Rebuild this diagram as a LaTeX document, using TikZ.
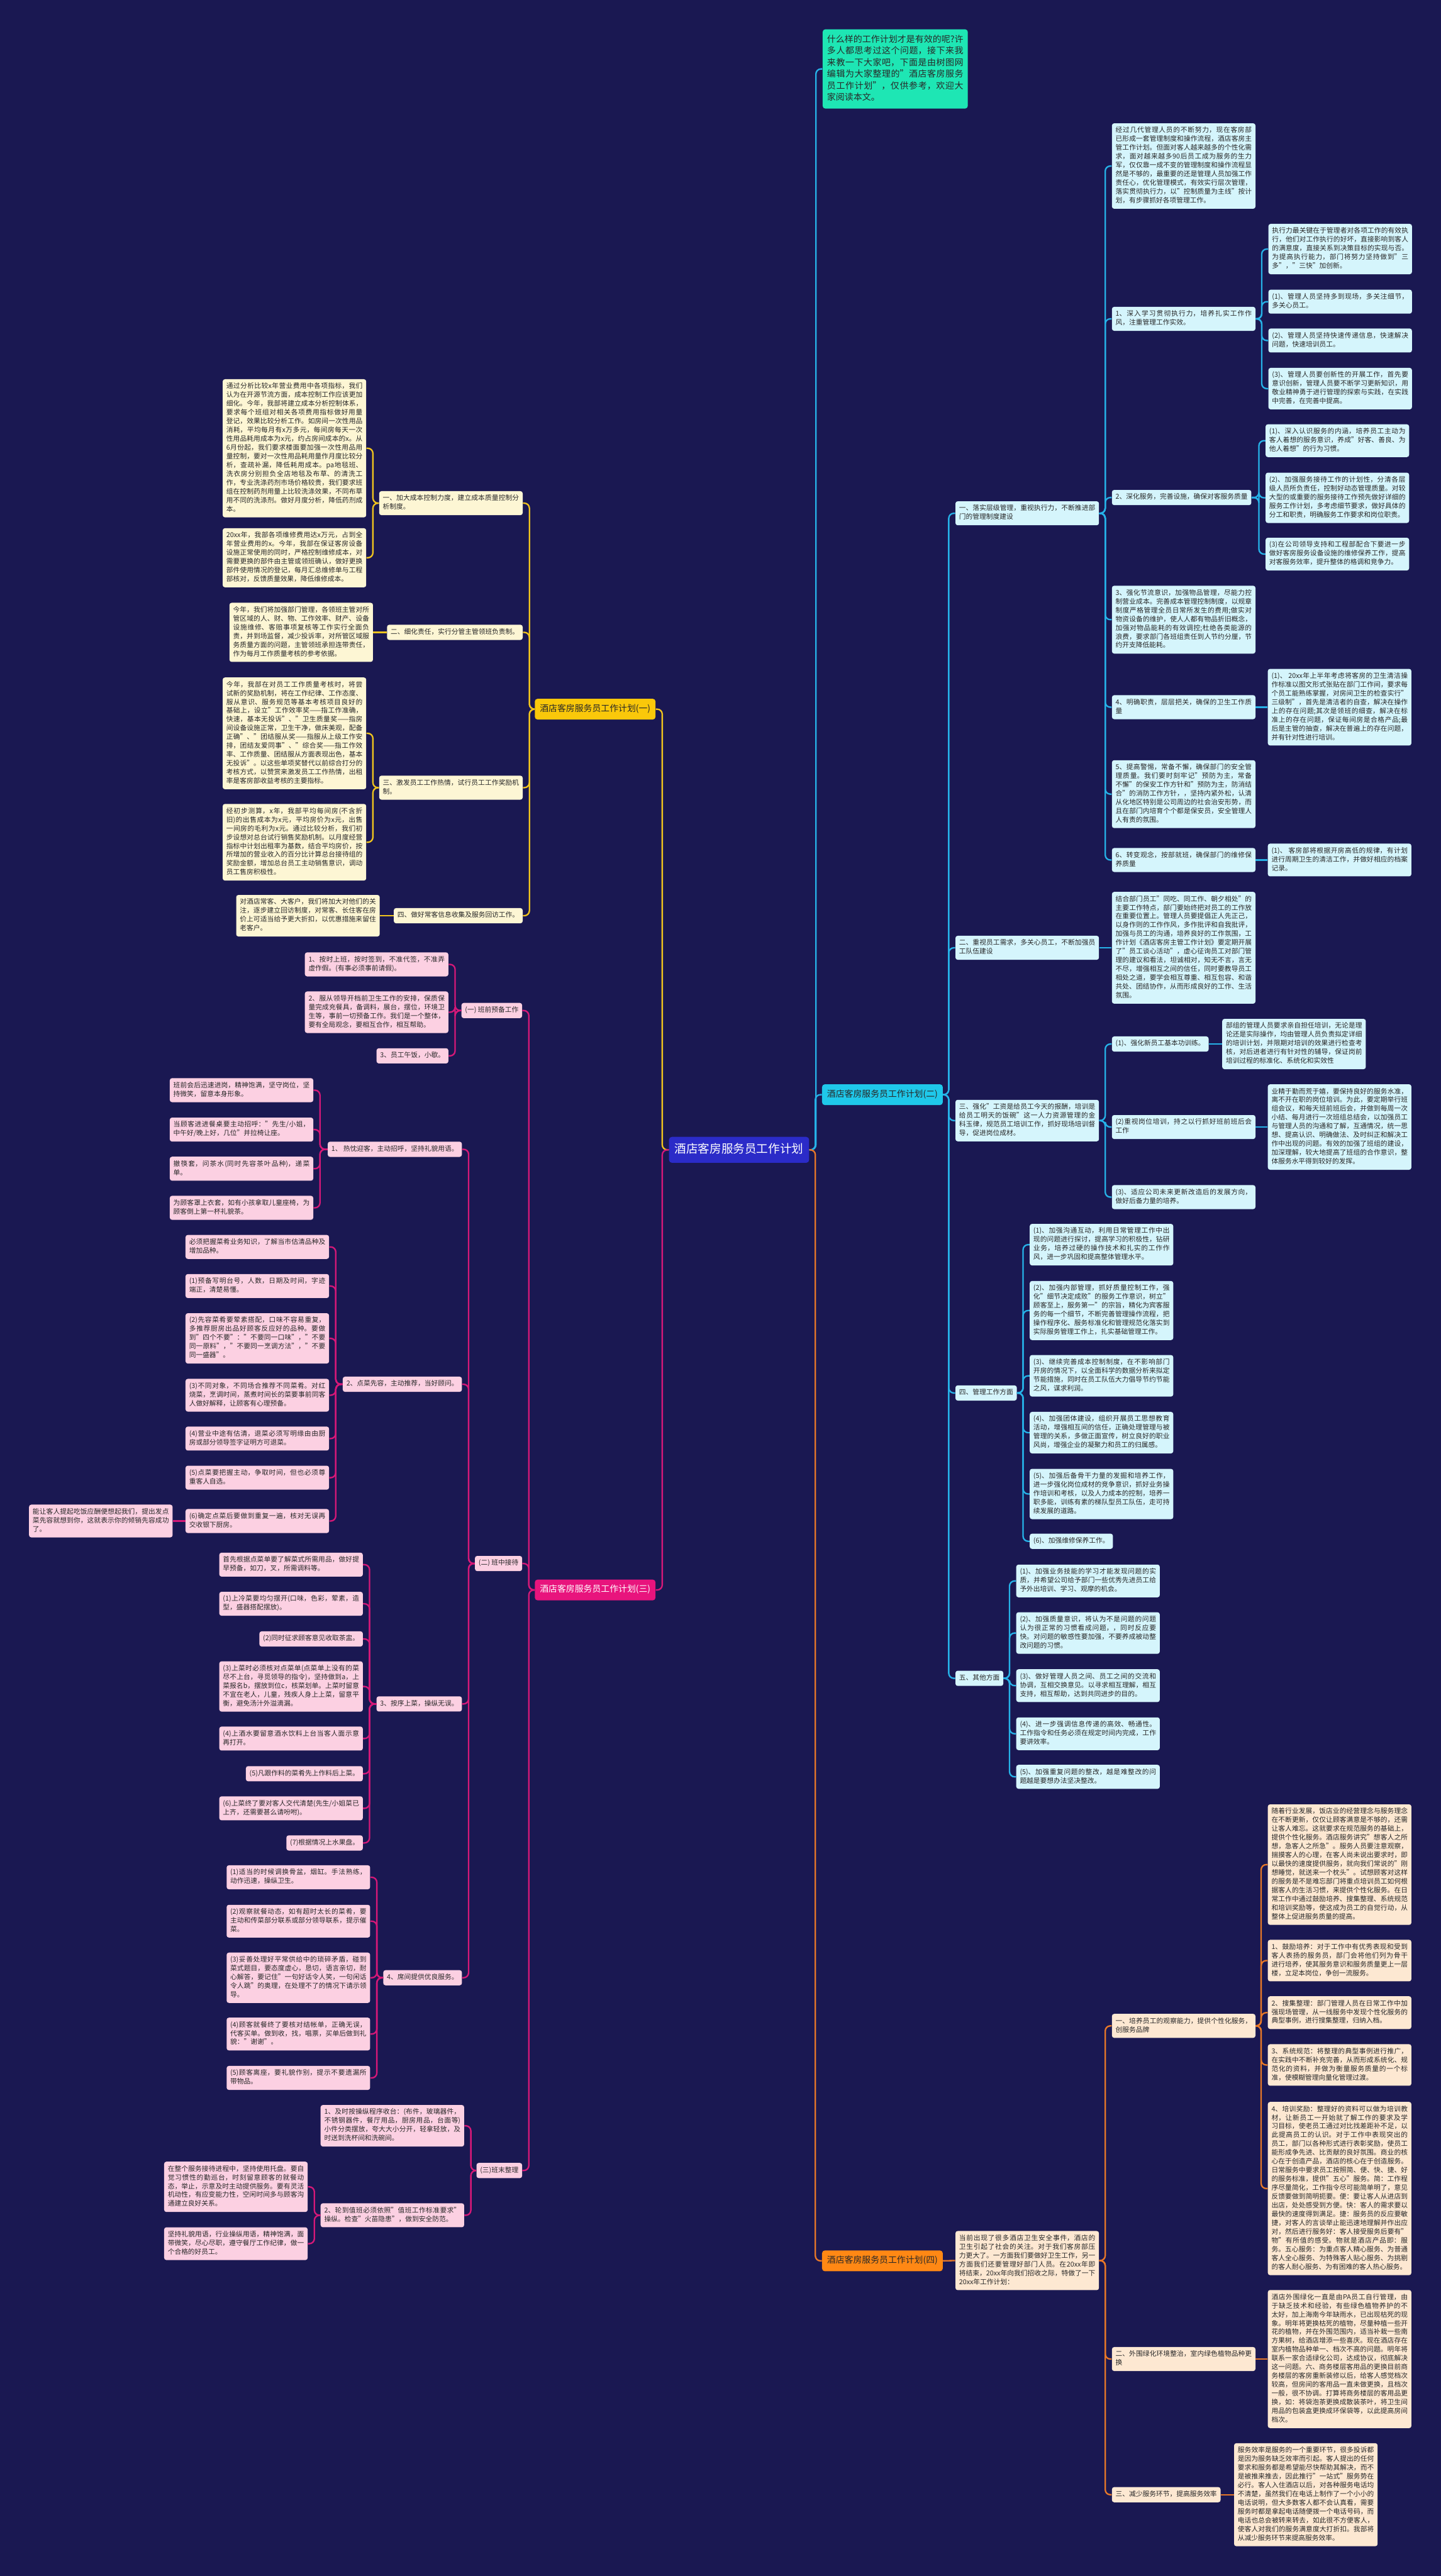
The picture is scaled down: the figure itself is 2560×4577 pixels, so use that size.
\documentclass[tikz,border=0pt]{standalone}
\usepackage{fontspec}
\setmainfont{Noto Sans CJK SC}
\XeTeXlinebreaklocale "zh"
\XeTeXlinebreakskip=0pt plus 0.5pt
\XeTeXinterchartokenstate=1
\XeTeXinterchartoks 1 3 = {\hskip0pt plus 0.5pt\relax}
\XeTeXinterchartoks 3 3 = {\hskip0pt plus 0.5pt\relax}
\XeTeXinterchartoks 0 3 = {\hskip0pt plus 0.5pt\relax}
\definecolor{bg}{RGB}{26,24,82}
\definecolor{txt}{RGB}{40,40,40}
\definecolor{rootfill}{RGB}{43,43,200}
\definecolor{cnode}{RGB}{31,200,234}
\definecolor{cline}{RGB}{38,178,232}
\definecolor{cbox}{RGB}{213,245,252}
\definecolor{intro}{RGB}{30,230,180}
\definecolor{ynode}{RGB}{250,200,10}
\definecolor{yline}{RGB}{240,196,30}
\definecolor{ybox}{RGB}{253,246,212}
\definecolor{pnode}{RGB}{232,20,125}
\definecolor{pline}{RGB}{214,24,120}
\definecolor{pbox}{RGB}{252,208,226}
\definecolor{onode}{RGB}{255,136,20}
\definecolor{oline}{RGB}{232,120,40}
\definecolor{obox}{RGB}{253,232,210}
\newcommand\dfont{\fontsize{6pt}{7.8pt}\selectfont}
\newcommand\bfont{\fontsize{7.75pt}{10.1pt}\selectfont}
\newcommand\rfont{\fontsize{10.4pt}{13.5pt}\selectfont}
\newcommand\ifont{\fontsize{7.8pt}{10.35pt}\selectfont}
\newcommand\rlink[3]{\draw[#1] (#3.west) -- ++(-11.5,0) |- (#2.east);}
\newcommand\llink[3]{\draw[#1] (#3.east) -- ++(11.5,0) |- (#2.west);}
\newcommand\srlink[3]{\draw[#1] (#2.east) -- (#3.west);}
\newcommand\sllink[3]{\draw[#1] (#2.west) -- (#3.east);}
\tikzset{
 bx/.style={rounded corners=2pt, inner xsep=3.25pt, inner ysep=2.85pt, font=\dfont, text=txt, execute at begin node=\strut, execute at end node=\strut},
 wb/.style={bx, text width=121pt, align=justify},
 nb/.style={bx, align=left},
 cb/.style={fill=cbox}, yb/.style={fill=ybox}, pb/.style={fill=pbox}, ob/.style={fill=obox},
 brn/.style={rounded corners=2.5pt, inner xsep=4.5pt, inner ysep=4.2pt, font=\bfont, execute at begin node=\strut, execute at end node=\strut},
 lk/.style={line width=1.3pt, rounded corners=4.5pt},
 lc/.style={lk, draw=cline}, lo/.style={lk, draw=oline}, ly/.style={lk, draw=yline}, lp/.style={lk, draw=pline}
}
\begin{document}
\begin{tikzpicture}[x=0.5pt,y=-0.5pt]
\fill[bg] (0,0) rectangle (2560,4577);
\useasboundingbox (0,0) rectangle (2560,4577);

% root and branches
\node[rounded corners=2.5pt, fill=rootfill, text=white, font=\rfont, inner xsep=5pt, inner ysep=4.75pt, execute at begin node=\strut, execute at end node=\strut] (root) at (1313,2043) {酒店客房服务员工作计划};
\node[anchor=west, rounded corners=2.5pt, fill=intro, text=txt, font=\ifont, text width=121pt, align=justify, inner xsep=4pt, inner ysep=4.2pt, execute at begin node=\strut, execute at end node=\strut] (intro) at (1461,122.5) {什么样的工作计划才是有效的呢?许多人都思考过这个问题，接下来我来教一下大家吧，下面是由树图网编辑为大家整理的"酒店客房服务员工作计划"，仅供参考，欢迎大家阅读本文。};
\node[brn, anchor=west, fill=cnode, text=txt] (B2) at (1460,1945) {酒店客房服务员工作计划(二)};
\node[brn, anchor=west, fill=onode, text=txt] (B4) at (1460,4017) {酒店客房服务员工作计划(四)};
\node[brn, anchor=east, fill=ynode, text=txt] (B1) at (1165,1260) {酒店客房服务员工作计划(一)};
\node[brn, anchor=east, fill=pnode, text=white] (B3) at (1165,2825) {酒店客房服务员工作计划(三)};

% ===== branch (二)
\node[wb,cb,anchor=west] (S21) at (1697,912) {一、落实层级管理，重视执行力，不断推进部门的管理制度建设};
\node[wb,cb,anchor=west] (D211) at (1975,295) {经过几代管理人员的不断努力，现在客房部已形成一套管理制度和操作流程，酒店客房主管工作计划。但面对客人越来越多的个性化需求，面对越来越多90后员工成为服务的生力军，仅仅靠一成不变的管理制度和操作流程显然是不够的，最重要的还是管理人员加强工作责任心，优化管理模式，有效实行层次管理，落实贯彻执行力，以"控制质量为主线"按计划，有步骤抓好各项管理工作。};
\node[wb,cb,anchor=west] (D212) at (1975,566.5) {1、深入学习贯彻执行力，培养扎实工作作风，注重管理工作实效。};
\node[wb,cb,anchor=west] (E1) at (2253,442.5) {执行力最关键在于管理者对各项工作的有效执行，他们对工作执行的好坏，直接影响到客人的满意度，直接关系到决策目标的实现与否。为提高执行能力，部门将努力坚持做到"三多"，"三快"加创新。};
\node[wb,cb,anchor=west] (E2) at (2253,536) {(1)、管理人员坚持多到现场，多关注细节，多关心员工。};
\node[wb,cb,anchor=west] (E3) at (2253,605) {(2)、管理人员坚持快速传递信息，快速解决问题，快速培训员工。};
\node[wb,cb,anchor=west] (E4) at (2253,690.5) {(3)、管理人员要创新性的开展工作，首先要意识创新，管理人员要不断学习更新知识，用敬业精神勇于进行管理的探索与实践，在实践中完善，在完善中提高。};
\node[nb,cb,anchor=west] (D213) at (1975,884) {2、深化服务，完善设施，确保对客服务质量};
\node[wb,cb,anchor=west] (F1) at (2248,783) {(1)、深入认识服务的内涵，培养员工主动为客人着想的服务意识，养成"好客、善良、为他人着想"的行为习惯。};
\node[wb,cb,anchor=west] (F2) at (2248,884.5) {(2)、加强服务接待工作的计划性，分清各层级人员所负责任，控制好动态管理质量。对较大型的或重要的服务接待工作预先做好详细的服务工作计划，多考虑细节要求，做好具体的分工和职责，明确服务工作要求和岗位职责。};
\node[wb,cb,anchor=west] (F3) at (2248,984.5) {(3)在公司领导支持和工程部配合下要进一步做好客房服务设备设施的维修保养工作，提高对客服务效率，提升整体的格调和竞争力。};
\node[wb,cb,anchor=west] (D214) at (1975,1101) {3、强化节流意识，加强物品管理，尽能力控制营业成本。完善成本管理控制制度，以规章制度严格管理全员日常所发生的费用;做实对物资设备的维护，使人人都有物品折旧概念，加强对物品能耗的有效调控;杜绝各类能源的浪费，要求部门各班组责任到人节约分厘，节约开支降低能耗。};
\node[wb,cb,anchor=west] (D215) at (1975,1256.5) {4、明确职责，层层把关，确保的卫生工作质量};
\node[wb,cb,anchor=west] (G1) at (2252,1256.5) {(1)、 20xx年上半年考虑将客房的卫生清洁操作标准以图文形式张贴在部门工作间，要求每个员工能熟练掌握，对房间卫生的检查实行"三级制"，首先是清洁者的自查，解决在操作上的存在问题;其次是领班的细查，解决在标准上的存在问题，保证每间房是合格产品;最后是主管的抽查，解决在普遍上的存在问题，并有针对性进行培训。};
\node[wb,cb,anchor=west] (D216) at (1975,1411) {5、提高警惕，常备不懈，确保部门的安全管理质量。我们要时刻牢记"预防为主，常备不懈"的保安工作方针和"预防为主，防消结合"的消防工作方针，，坚持内紧外松，认清从化地区特别是公司周边的社会治安形势，而且在部门内培育个个都是保安员，安全管理人人有责的氛围。};
\node[wb,cb,anchor=west] (D217) at (1975,1528) {6、转变观念，按部就班，确保部门的维修保养质量};
\node[wb,cb,anchor=west] (H1) at (2252,1528) {(1)、 客房部将根据开房高低的规律，有计划进行周期卫生的清洁工作，并做好相应的档案记录。};

\node[wb,cb,anchor=west] (S22) at (1697,1684) {二、重视员工需求，多关心员工，不断加强员工队伍建设};
\node[wb,cb,anchor=west] (D221) at (1975,1684) {结合部门员工"同吃、同工作、朝夕相处"的主要工作特点，部门要始终把对员工的工作放在重要位置上。管理人员要提倡正人先正己，以身作则的工作作风，多作批评和自我批评，加强与员工的沟通，培养良好的工作氛围，工作计划《酒店客房主管工作计划》要定期开展了"员工谈心活动"，虚心征询员工对部门管理的建议和看法，坦诚相对，知无不言，言无不尽，增强相互之间的信任，同时要教导员工相处之道，要学会相互尊重、相互包容、和谐共处、团结协作，从而形成良好的工作、生活氛围。};

\node[wb,cb,anchor=west] (S23) at (1697,1991) {三、强化"工资是给员工今天的报酬，培训是给员工明天的饭碗"这一人力资源管理的金科玉律，规范员工培训工作，抓好现场培训督导，促进岗位成材。};
\node[nb,cb,anchor=west] (D231) at (1975,1855) {(1)、强化新员工基本功训练。};
\node[wb,cb,anchor=west] (I1) at (2171,1855) {部组的管理人员要求亲自担任培训，无论是理论还是实际操作，均由管理人员负责拟定详细的培训计划，并限期对培训的效果进行检查考核，对后进者进行有针对性的辅导，保证岗前培训过程的标准化、系统化和实效性};
\node[wb,cb,anchor=west] (D232) at (1975,2002.5) {(2)重视岗位培训，持之以行抓好班前班后会工作};
\node[wb,cb,anchor=west] (I2) at (2252,2002.5) {业精于勤而荒于嬉，要保持良好的服务水准，离不开在职的岗位培训。为此，要定期举行班组会议，和每天班前班后会，并做到每周一次小结、每月进行一次班组总结会，以加强员工与管理人员的沟通和了解，互通情况，统一思想、提高认识、明确做法、及时纠正和解决工作中出现的问题。有效的加强了班组的建设，加深理解，较大地提高了班组的合作意识，整体服务水平得到较好的发挥。};
\node[wb,cb,anchor=west] (D233) at (1975,2127) {(3)、适应公司未来更新改造后的发展方向，做好后备力量的培养。};

\node[nb,cb,anchor=west] (S24) at (1697,2475) {四、管理工作方面};
\node[wb,cb,anchor=west] (J1) at (1829,2211.5) {(1)、加强沟通互动，利用日常管理工作中出现的问题进行探讨，提高学习的积极性，钻研业务，培养过硬的操作技术和扎实的工作作风，进一步巩固和提高整体管理水平。};
\node[wb,cb,anchor=west] (J2) at (1829,2328.5) {(2)、加强内部管理，抓好质量控制工作，强化"细节决定成败"的服务工作意识，树立"顾客至上，服务第一"的宗旨，精化为宾客服务的每一个细节，不断完善管理操作流程，把操作程序化、服务标准化和管理规范化落实到实际服务管理工作上，扎实基础管理工作。};
\node[wb,cb,anchor=west] (J3) at (1829,2444.5) {(3)、继续完善成本控制制度，在不影响部门开房的情况下，以全面科学的数据分析来拟定节能措施，同时在员工队伍大力倡导节约节能之风，谋求利润。};
\node[wb,cb,anchor=west] (J4) at (1829,2545.5) {(4)、加强团体建设，组织开展员工思想教育活动，增强相互间的信任，正确处理管理与被管理的关系，多做正面宣传，树立良好的职业风尚，增强企业的凝聚力和员工的归属感。};
\node[wb,cb,anchor=west] (J5) at (1829,2654.5) {(5)、加强后备骨干力量的发掘和培养工作，进一步强化岗位成材的竞争意识，抓好业务操作培训和考核，以及人力成本的控制，培养一职多能，训练有素的梯队型员工队伍，走可持续发展的道路。};
\node[nb,cb,anchor=west] (J6) at (1829,2738.5) {(6)、加强维修保养工作。};

\node[nb,cb,anchor=west] (S25) at (1697,2982) {五、其他方面};
\node[wb,cb,anchor=west] (K1) at (1805,2809) {(1)、加强业务技能的学习才能发现问题的实质，并希望公司给予部门一些优秀先进员工给予外出培训、学习、观摩的机会。};
\node[wb,cb,anchor=west] (K2) at (1805,2901.5) {(2)、加强质量意识，将认为不是问题的问题认为很正常的习惯看成问题，，同时反应要快。对问题的敏感性要加强，不要养成被动整改问题的习惯。};
\node[wb,cb,anchor=west] (K3) at (1805,2995) {(3)、做好管理人员之间、员工之间的交流和协调，互相交换意见。以寻求相互理解，相互支持，相互帮助，达到共同进步的目的。};
\node[wb,cb,anchor=west] (K4) at (1805,3080.5) {(4)、进一步强调信息传递的高效、畅通性。工作指令和任务必须在规定时间内完成，工作要讲效率。};
\node[wb,cb,anchor=west] (K5) at (1805,3157) {(5)、加强重复问题的整改，越是难整改的问题越是要想办法坚决整改。};

% ===== branch (四)
\node[wb,ob,anchor=west] (S41) at (1697,4016.5) {当前出现了很多酒店卫生安全事件，酒店的卫生引起了社会的关注。对于我们客房部压力更大了。一方面我们要做好卫生工作，另一方面我们还要管理好部门人员。在20xx年即将结束，20xx年向我们招收之际，特做了一下20xx年工作计划：};
\node[wb,ob,anchor=west] (S411) at (1975,3599.5) {一、培养员工的观察能力，提供个性化服务，创服务品牌};
\node[wb,ob,anchor=west] (L1) at (2252,3313) {随着行业发展，饭店业的经营理念与服务理念在不断更新，仅仅让顾客满意是不够的，还需让客人难忘。这就要求在规范服务的基础上，提供个性化服务。酒店服务讲究"想客人之所想，急客人之所急"。服务人员要注意观察，揣摸客人的心理，在客人尚未说出要求时，即以最快的速度提供服务，就向我们常说的"刚想睡觉，就送来一个枕头"。试想顾客对这样的服务是不是难忘部门将重点培训员工如何根据客人的生活习惯，来提供个性化服务。在日常工作中通过鼓励培养、搜集整理、系统规范和培训奖励等，使这成为员工的自觉行动，从整体上促进服务质量的提高。};
\node[wb,ob,anchor=west] (L2) at (2252,3483.5) {1、鼓励培养：对于工作中有优秀表现和受到客人表扬的服务员，部门会将他们列为骨干进行培养，使其服务意识和服务质量更上一层楼，立足本岗位，争创一流服务。};
\node[wb,ob,anchor=west] (L3) at (2252,3576) {2、搜集整理：部门管理人员在日常工作中加强现场管理，从一线服务中发现个性化服务的典型事例，进行搜集整理，归纳入档。};
\node[wb,ob,anchor=west] (L4) at (2252,3669) {3、系统规范：将整理的典型事例进行推广，在实践中不断补充完善，从而形成系统化、规范化的资料，并做为衡量服务质量的一个标准，使模糊管理向量化管理过渡。};
\node[wb,ob,anchor=west] (L5) at (2252,3888.5) {4、培训奖励：整理好的资料可以做为培训教材，让新员工一开始就了解工作的要求及学习目标，使老员工通过对比找差距补不足，以此提高员工的认识。对于工作中表现突出的员工，部门以各种形式进行表彰奖励，使员工能形成争先进、比贡献的良好氛围。商业的核心在于创造产品，酒店的核心在于创造服务。日常服务中要求员工按照简、便、快、捷、好的服务标准，提供"五心"服务。简：工作程序尽量简化，工作指令尽可能简单明了，意见反馈要做到简明扼要。便：要让客人从进店到出店，处处感受到方便。快：客人的需求要以最快的速度得到满足。捷：服务员的反应要敏捷，对客人的言谈举止能迅速地理解并作出应对，然后进行服务好：客人接受服务后要有"物"有所值的感受。物就是酒店产品即：服务。五心服务：为重点客人精心服务、为普通客人全心服务、为特殊客人贴心服务、为挑剔的客人耐心服务、为有困难的客人热心服务。};
\node[wb,ob,anchor=west] (S412) at (1975,4191.5) {二、外围绿化环境整治，室内绿色植物品种更换};
\node[wb,ob,anchor=west] (M1) at (2252,4191.5) {酒店外围绿化一直是由PA员工自行管理，由于缺乏技术和经验，有些绿色植物养护的不太好，加上海南今年缺雨水，已出现枯死的现象。明年将更换枯死的植物，尽量种植一些开花的植物，并在外围范围内，适当补栽一些南方果树，给酒店增添一些喜庆。现在酒店存在室内植物品种单一、档次不高的问题。明年将联系一家合适绿化公司，达成协议，彻底解决这一问题。六、商务楼层客用品的更换目前商务楼层的客房重新装修以后，给客人感觉档次较高，但房间的客用品一直未做更换，且档次一般，很不协调。打算将商务楼层的客用品更换，如：将袋泡茶更换成散装茶叶，将卫生间用品的包装盒更换成环保袋等，以此提高房间档次。};
\node[nb,ob,anchor=west] (S413) at (1975,4432.5) {三、减少服务环节，提高服务效率};
\node[wb,ob,anchor=west] (N1) at (2192,4432.5) {服务效率是服务的一个重要环节，很多投诉都是因为服务缺乏效率而引起。客人提出的任何要求和服务都是希望能尽快帮助其解决，而不是被推来推去，因此推行"一站式"服务势在必行。客人入住酒店以后，对各种服务电话均不清楚，虽然我们在电话上制作了一个小小的电话说明，但大多数客人都不会认真看，需要服务时都是拿起电话随便拨一个电话号码，而电话也总会被转来转去，如此很不方便客人，使客人对我们的服务满意度大打折扣。我部将从减少服务环节来提高服务效率。};

% ===== branch (一)
\node[wb,yb,anchor=east] (P1) at (929,894) {一、加大成本控制力度，建立成本质量控制分析制度。};
\node[wb,yb,anchor=east] (P11) at (651,796.5) {通过分析比较x年营业费用中各项指标，我们认为在开源节流方面，成本控制工作应该更加细化。今年，我部将建立成本分析控制体系，要求每个班组对相关各项费用指标做好用量登记，效果比较分析工作。如房间一次性用品消耗，平均每月有x万多元，每间房每天一次性用品耗用成本为x元，约占房间成本的x。从6月份起，我们要求楼面要加强一次性用品用量控制，要对一次性用品耗用量作月度比较分析，查疏补漏，降低耗用成本。pa地毯班、洗衣房分别担负全店地毯及布草、的清洗工作，专业洗涤药剂市场价格较贵，我们要求班组在控制药剂用量上比较洗涤效果，不同布草用不同的洗涤剂。做好月度分析，降低药剂成本。};
\node[wb,yb,anchor=east] (P12) at (651,991) {20xx年，我部各项维修费用达x万元，占到全年营业费用的x。今年，我部在保证客房设备设施正常使用的同时，严格控制维修成本，对需要更换的部件由主管或领班确认，做好更换部件使用情况的登记，每月汇总维修单与工程部核对，反馈质量效果，降低维修成本。};
\node[nb,yb,anchor=east] (P2) at (929,1123.5) {二、细化责任，实行分管主管领班负责制。};
\node[wb,yb,anchor=east] (P21) at (663,1123.5) {今年，我们将加强部门管理，各领班主管对所管区域的人、财、物、工作效率、财产、设备设施维修、客赔事项复核等工作实行全面负责，并到场监督，减少投诉率，对所管区域服务质量方面的问题，主管领班承担连带责任，作为每月工作质量考核的参考依据。};
\node[wb,yb,anchor=east] (P3) at (929,1399.5) {三、激发员工工作热情，试行员工工作奖励机制。};
\node[wb,yb,anchor=east] (P31) at (651,1303) {今年，我部在对员工工作质量考核时，将尝试新的奖励机制，将在工作纪律、工作态度、服从意识、服务规范等基本考核项目良好的基础上，设立"工作效率奖——指工作准确，快速，基本无投诉"、"卫生质量奖——指房间设备设施正常，卫生干净，做床美观，配备正确"、"团结服从奖——指服从上级工作安排，团结友爱同事"、"综合奖——指工作效率、工作质量、团结服从方面表现出色，基本无投诉"。以这些单项奖替代以前综合打分的考核方式，以赞赏来激发员工工作热情，出租率是客房部收益考核的主要指标。};
\node[wb,yb,anchor=east] (P32) at (651,1496.5) {经初步测算，x年，我部平均每间房(不含折旧)的出售成本为x元，平均房价为x元，出售一间房的毛利为x元。通过比较分析，我们初步设想对总台试行销售奖励机制。以月度经营指标中计划出租率为基数，结合平均房价，按所增加的营业收入的百分比计算总台接待组的奖励金额，增加总台员工主动销售意识，调动员工售房积极性。};
\node[nb,yb,anchor=east] (P4) at (929,1627) {四、做好常客信息收集及服务回访工作。};
\node[wb,yb,anchor=east] (P41) at (675,1627) {对酒店常客、大客户，我们将加大对他们的关注，逐步建立回访制度，对常客、长住客在房价上可适当给予更大折扣，以优惠措施来留住老客户。};

% ===== branch (三)
\node[nb,pb,anchor=east] (Q1) at (928,1795.5) {(一) 班前预备工作};
\node[wb,pb,anchor=east] (Q11) at (797,1713.5) {1、按时上班，按时签到，不准代签，不准弄虚作假。(有事必须事前请假)。};
\node[wb,pb,anchor=east] (Q12) at (797,1798.5) {2、服从领导开档前卫生工作的安排，保质保量完成充餐具，备调料，展台，摆位，环境卫生等，事前一切预备工作。我们是一个整体，要有全局观念，要相互合作，相互帮助。};
\node[nb,pb,anchor=east] (Q13) at (797,1876) {3、员工午饭，小歇。};

\node[nb,pb,anchor=east] (Q2) at (928,2778) {(二) 班中接待};
\node[nb,pb,anchor=east] (Q21) at (821,2042) {1、 热忱迎客，主动招呼，坚持礼貌用语。};
\node[wb,pb,anchor=east] (Q211) at (557,1937) {班前会后迅速进岗，精神饱满，坚守岗位，坚持微笑，留意本身形象。};
\node[wb,pb,anchor=east] (Q212) at (557,2007) {当顾客进进餐桌要主动招呼："先生/小姐，中午好/晚上好，几位"并拉椅让座。};
\node[wb,pb,anchor=east] (Q213) at (557,2076.5) {撤筷套，问茶水(同时先容茶叶品种)，递菜单。};
\node[wb,pb,anchor=east] (Q214) at (557,2146) {为顾客罩上衣套，如有小孩拿取儿童座椅，为顾客倒上第一杯礼貌茶。};

\node[nb,pb,anchor=east] (Q22) at (821,2459.5) {2、点菜先容，主动推荐，当好顾问。};
\node[wb,pb,anchor=east] (Q221) at (585,2215.5) {必须把握菜肴业务知识，了解当市估清品种及增加品种。};
\node[wb,pb,anchor=east] (Q222) at (585,2285) {(1)预备写明台号，人数，日期及时间，字迹端正，清楚易懂。};
\node[wb,pb,anchor=east] (Q223) at (585,2378) {(2)先容菜肴要荤素搭配，口味不容易重复，多推荐厨房出品好顾客反应好的品种。要做到"四个不要"："不要同一口味"，"不要同一原料"，"不要同一烹调方法"，"不要同一盛器"。};
\node[wb,pb,anchor=east] (Q224) at (585,2479) {(3)不同对象，不同场合推荐不同菜肴。对红烧菜，烹调时间，蒸煮时间长的菜要事前同客人做好解释，让顾客有心理预备。};
\node[wb,pb,anchor=east] (Q225) at (585,2556) {(4)营业中途有估清，退菜必须写明缘由由厨房或部分领导签字证明方可退菜。};
\node[wb,pb,anchor=east] (Q226) at (585,2625.5) {(5)点菜要把握主动，争取时间，但也必须尊重客人自选。};
\node[wb,pb,anchor=east] (Q227) at (585,2702.5) {(6)确定点菜后要做到重复一遍，核对无误再交收银下厨房。};
\node[wb,pb,anchor=east] (Q2271) at (307,2702.5) {能让客人提起吃饭应酬便想起我们，提出发点菜先容就想到你，这就表示你的倾销先容成功了。};

\node[nb,pb,anchor=east] (Q23) at (821,3027.5) {3、按序上菜，操纵无误。};
\node[wb,pb,anchor=east] (Q231) at (645,2780) {首先根据点菜单要了解菜式所需用品，做好提早预备，如刀，叉，所需调料等。};
\node[wb,pb,anchor=east] (Q232) at (645,2849.5) {(1)上冷菜要均匀摆开(口味，色彩，荤素，造型，盛器搭配摆放)。};
\node[nb,pb,anchor=east] (Q233) at (645,2912) {(2)同时征求顾客意见收取茶盅。};
\node[wb,pb,anchor=east] (Q234) at (645,2996.5) {(3)上菜时必须核对点菜单(点菜单上没有的菜尽不上台，寻觅领导的指令)，坚持做到a，上菜报名b，摆放到位c，核菜划单。上菜时留意不宜在老人，儿童，残疾人身上上菜，留意平衡，避免汤汁外溢滴漏。};
\node[wb,pb,anchor=east] (Q235) at (645,3089) {(4)上酒水要留意酒水饮料上台当客人面示意再打开。};
\node[nb,pb,anchor=east] (Q236) at (645,3151.5) {(5)凡跟作料的菜肴先上作料后上菜。};
\node[wb,pb,anchor=east] (Q237) at (645,3213) {(6)上菜终了要对客人交代清楚(先生/小姐菜已上齐，还需要甚么请吩咐)。};
\node[nb,pb,anchor=east] (Q238) at (645,3274.5) {(7)根据情况上水果盘。};

\node[nb,pb,anchor=east] (Q24) at (821,3514) {4、席间提供优良服务。};
\node[wb,pb,anchor=east] (Q241) at (658,3335.5) {(1)适当的时候调换骨盆，烟缸。手法熟练，动作迅速，操纵卫生。};
\node[wb,pb,anchor=east] (Q242) at (658,3413.5) {(2)观察就餐动态，如有超时太长的菜肴，要主动和传菜部分联系或部分领导联系，提示催菜。};
\node[wb,pb,anchor=east] (Q243) at (658,3514) {(3)妥善处理好平常供给中的琐碎矛盾，碰到菜式题目，要态度虚心，恳切，语言亲切，耐心解答，要记住"一句好话令人笑，一句闲话令人跳"的奥理，在处理不了的情况下请示领导。};
\node[wb,pb,anchor=east] (Q244) at (658,3614) {(4)顾客就餐终了要核对结帐单，正确无误，代客买单。做到收，找，唱票，买单后做到礼貌："谢谢"。};
\node[wb,pb,anchor=east] (Q245) at (658,3692) {(5)顾客离座，要礼貌作别，提示不要遗漏所带物品。};

\node[nb,pb,anchor=east] (Q3) at (928,3856.5) {(三)班末整理};
\node[wb,pb,anchor=east] (Q31) at (825,3777) {1、及时按操纵程序收台：(布件，玻璃器件，不锈钢器件，餐厅用品，厨房用品，台面等)小件分类摆放，夸大大小分开，轻拿轻放，及时送到洗杯间和洗碗间。};
\node[wb,pb,anchor=east] (Q32) at (825,3936) {2、轮到值班必须依照"值班工作标准要求"操纵。检查"火苗隐患"，做到安全防范。};
\node[wb,pb,anchor=east] (Q321) at (547,3885.5) {在整个服务接待进程中，坚持使用托盘。要自觉习惯性的勤巡台，时刻留意顾客的就餐动态，举止，示意及时主动提供服务。要有灵活机动性，有应变能力性，空闲时间多与顾客沟通建立良好关系。};
\node[wb,pb,anchor=east] (Q322) at (547,3986.5) {坚持礼貌用语，行业操纵用语，精神饱满，面带微笑，尽心尽职，遵守餐厅工作纪律，做一个合格的好员工。};

% ===== connectors
\rlink{lc}{root}{intro}
\rlink{lc}{root}{B2}
\rlink{lo}{root}{B4}
\llink{ly}{root}{B1}
\llink{lp}{root}{B3}

\foreach \c in {S21,S22,S23,S24,S25} {\rlink{lc}{B2}{\c}}
\foreach \c in {D211,D212,D213,D214,D215,D216,D217} {\rlink{lc}{S21}{\c}}
\foreach \c in {E1,E2,E3,E4} {\rlink{lc}{D212}{\c}}
\foreach \c in {F1,F2,F3} {\rlink{lc}{D213}{\c}}
\srlink{lc}{D215}{G1}
\srlink{lc}{D217}{H1}
\srlink{lc}{S22}{D221}
\foreach \c in {D231,D232,D233} {\rlink{lc}{S23}{\c}}
\srlink{lc}{D231}{I1}
\srlink{lc}{D232}{I2}
\foreach \c in {J1,J2,J3,J4,J5,J6} {\rlink{lc}{S24}{\c}}
\foreach \c in {K1,K2,K3,K4,K5} {\rlink{lc}{S25}{\c}}

\srlink{lo}{B4}{S41}
\foreach \c in {S411,S412,S413} {\rlink{lo}{S41}{\c}}
\foreach \c in {L1,L2,L3,L4,L5} {\rlink{lo}{S411}{\c}}
\srlink{lo}{S412}{M1}
\srlink{lo}{S413}{N1}

\foreach \c in {P1,P2,P3,P4} {\llink{ly}{B1}{\c}}
\foreach \c in {P11,P12} {\llink{ly}{P1}{\c}}
\sllink{ly}{P2}{P21}
\foreach \c in {P31,P32} {\llink{ly}{P3}{\c}}
\sllink{ly}{P4}{P41}

\foreach \c in {Q1,Q2,Q3} {\llink{lp}{B3}{\c}}
\foreach \c in {Q11,Q12,Q13} {\llink{lp}{Q1}{\c}}
\foreach \c in {Q21,Q22,Q23,Q24} {\llink{lp}{Q2}{\c}}
\foreach \c in {Q211,Q212,Q213,Q214} {\llink{lp}{Q21}{\c}}
\foreach \c in {Q221,Q222,Q223,Q224,Q225,Q226,Q227} {\llink{lp}{Q22}{\c}}
\sllink{lp}{Q227}{Q2271}
\foreach \c in {Q231,Q232,Q233,Q234,Q235,Q236,Q237,Q238} {\llink{lp}{Q23}{\c}}
\foreach \c in {Q241,Q242,Q243,Q244,Q245} {\llink{lp}{Q24}{\c}}
\foreach \c in {Q31,Q32} {\llink{lp}{Q3}{\c}}
\foreach \c in {Q321,Q322} {\llink{lp}{Q32}{\c}}
\end{tikzpicture}
\end{document}
